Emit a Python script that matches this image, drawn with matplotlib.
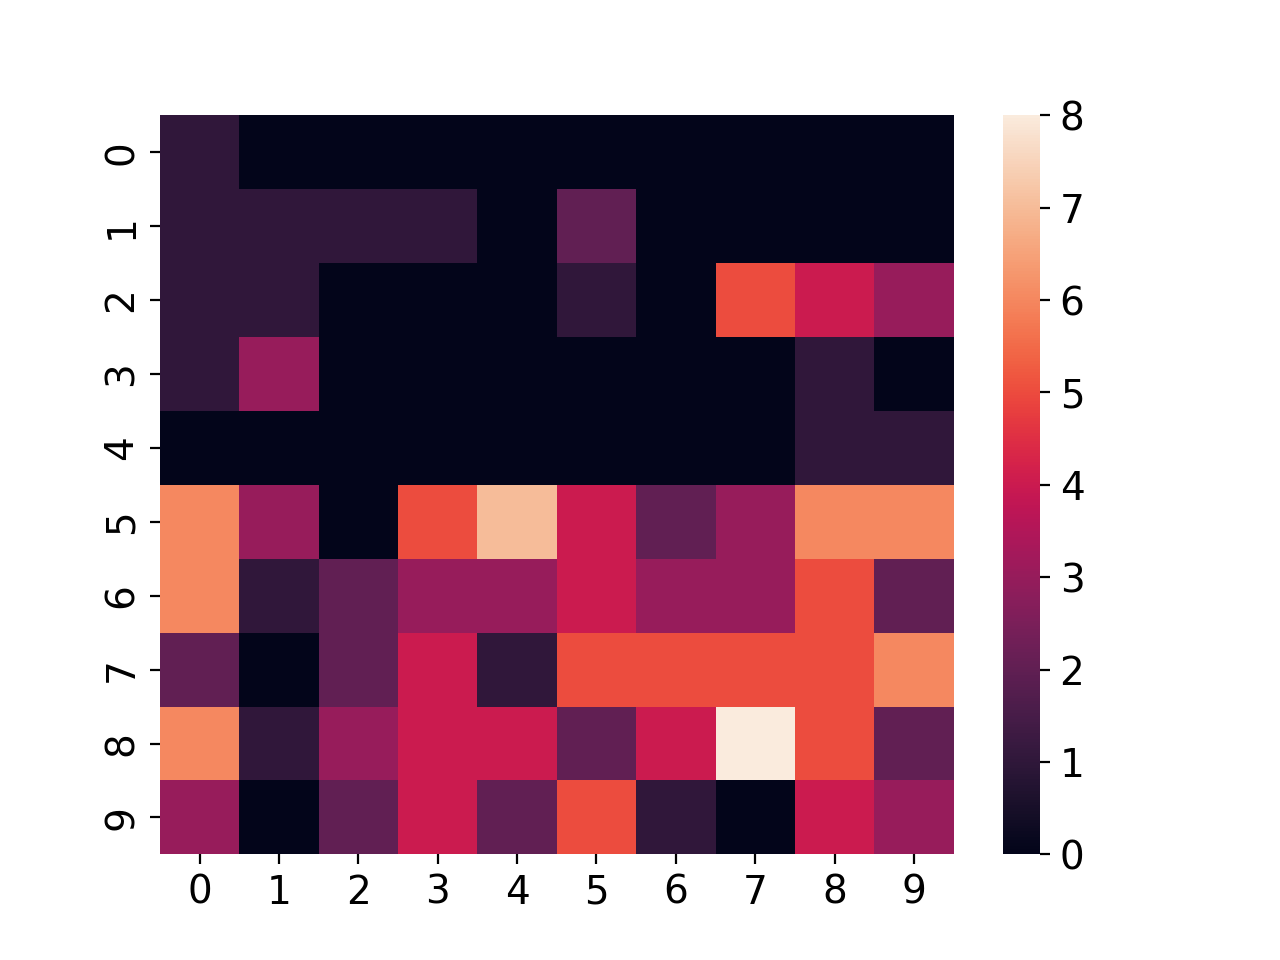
import numpy
import seaborn as sns
from matplotlib import pyplot

# cell values, row by row
rows = list(range(10))
cols = list(range(10))
values = [
    [1, 0, 0, 0, 0, 0, 0, 0, 0, 0],
    [1, 1, 1, 1, 0, 2, 0, 0, 0, 0],
    [1, 1, 0, 0, 0, 1, 0, 5, 4, 3],
    [1, 3, 0, 0, 0, 0, 0, 0, 1, 0],
    [0, 0, 0, 0, 0, 0, 0, 0, 1, 1],
    [6, 3, 0, 5, 7, 4, 2, 3, 6, 6],
    [6, 1, 2, 3, 3, 4, 3, 3, 5, 2],
    [2, 0, 2, 4, 1, 5, 5, 5, 5, 6],
    [6, 1, 3, 4, 4, 2, 4, 8, 5, 2],
    [3, 0, 2, 4, 2, 5, 1, 0, 4, 3],
]

pyplot.rcParams['font.size'] = 14

fig, ax = pyplot.subplots(figsize=(6.4, 4.8), dpi=200)
sns.heatmap(numpy.array(values), ax=ax, xticklabels=cols, yticklabels=rows)
fig.savefig('out.png')
